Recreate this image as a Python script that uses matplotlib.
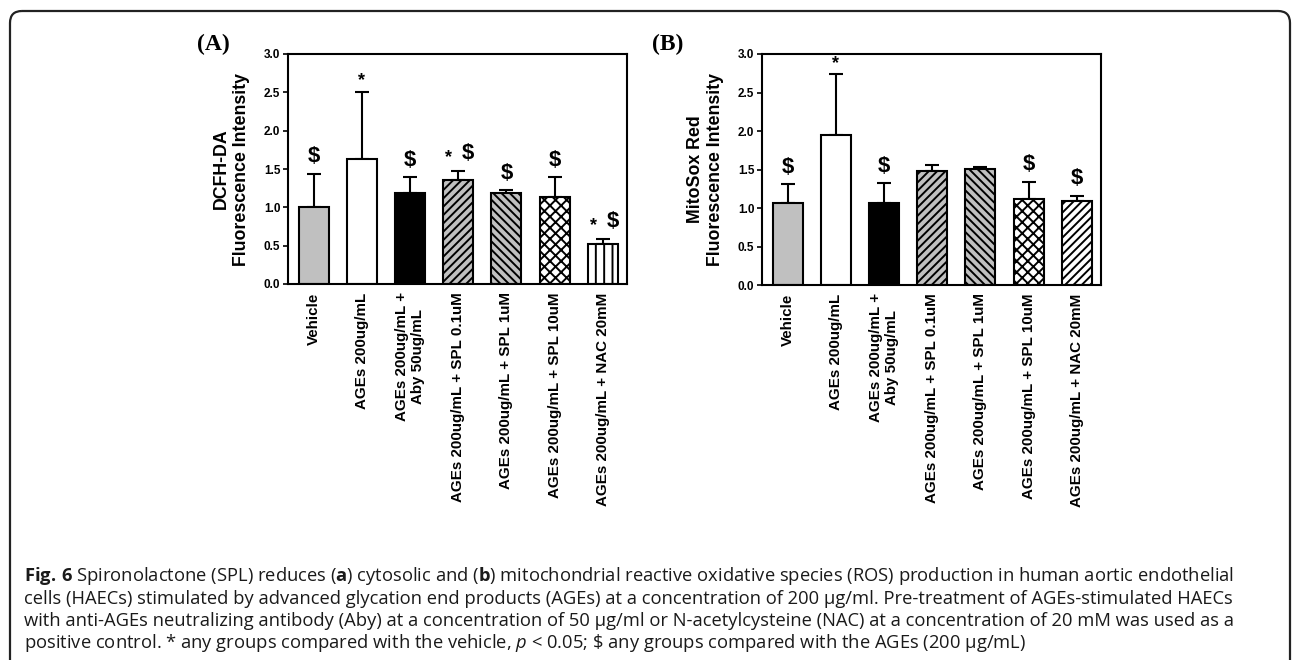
import numpy as np
import matplotlib
matplotlib.use('Agg')
import matplotlib.pyplot as plt
from matplotlib.patches import FancyBboxPatch

plt.rcParams['font.family'] = ['Liberation Sans', 'DejaVu Sans']
plt.rcParams['hatch.linewidth'] = 1.4
plt.rcParams['mathtext.fontset'] = 'custom'
plt.rcParams['mathtext.rm'] = 'Open Sans'
plt.rcParams['mathtext.bf'] = 'Open Sans:bold'
plt.rcParams['mathtext.it'] = 'Open Sans:italic'

groups = ['Vehicle', 'AGEs 200ug/mL', 'AGEs 200ug/mL +\nAby 50ug/mL',
          'AGEs 200ug/mL + SPL 0.1uM', 'AGEs 200ug/mL + SPL 1uM',
          'AGEs 200ug/mL + SPL 10uM', 'AGEs 200ug/mL + NAC 20mM']

# panel A: DCFH-DA
dcfh_mean = [1.01, 1.63, 1.19, 1.36, 1.19, 1.14, 0.52]
dcfh_err = [0.43, 0.88, 0.20, 0.12, 0.03, 0.25, 0.07]
dcfh_marks = ['$', '*', '$', '* $', '$', '$', '* $']

# panel B: MitoSox Red
mito_mean = [1.07, 1.95, 1.07, 1.48, 1.51, 1.12, 1.09]
mito_err = [0.24, 0.79, 0.25, 0.08, 0.02, 0.22, 0.07]
mito_marks = ['$', '*', '$', '', '', '$', '$']

fills = ['#c0c0c0', 'white', 'black', '#c0c0c0', '#c0c0c0', 'white', 'white']
hatch_a = [None, None, None, '////', '\\\\\\\\', 'xxx', '||']
hatch_b = [None, None, None, '////', '\\\\\\\\', 'xxx', '////']

W, H = 1295, 660
fig = plt.figure(figsize=(W / 100, H / 100), dpi=100)

# background layer in pixel coordinates: frame + caption
bg = fig.add_axes([0, 0, 1, 1], zorder=-1)
bg.set_xlim(0, W)
bg.set_ylim(H, 0)
bg.axis('off')
bg.add_patch(FancyBboxPatch((10, 11), 1280, 700,
                            boxstyle='round,pad=0,rounding_size=12',
                            fc='none', ec='#222222', lw=1.6))

cap = [r'$\mathbf{Fig.\,6}$ Spironolactone (SPL) reduces ($\mathbf{a}$) cytosolic and ($\mathbf{b}$) '
       'mitochondrial reactive oxidative species (ROS) production in human aortic endothelial',
       'cells (HAECs) stimulated by advanced glycation end products (AGEs) at a concentration '
       'of 200 μg/ml. Pre-treatment of AGEs-stimulated HAECs',
       'with anti-AGEs neutralizing antibody (Aby) at a concentration of 50 μg/ml or '
       'N-acetylcysteine (NAC) at a concentration of 20 mM was used as a',
       r'positive control. * any groups compared with the vehicle, $p$ < 0.05; \$ any groups '
       'compared with the AGEs (200 μg/mL)']
for k, line in enumerate(cap):
    bg.text(24, 576 + k * 22.5, line, fontsize=13.2, family='Open Sans',
            va='center', ha='left', color='#1a1a1a')


def panel(rect, means, errs, marks, hatches, ylabel, tag, tagx):
    ax = fig.add_axes(rect)
    x = np.arange(len(means))
    for i in x:
        ax.bar(i, means[i], width=0.62, color=fills[i], edgecolor='black',
               linewidth=1.5, hatch=hatches[i], zorder=2)
    ax.errorbar(x, means, yerr=[np.zeros(len(errs)), errs], fmt='none',
                ecolor='black', elinewidth=1.5, capsize=5, capthick=1.5, zorder=1)
    for i, m in enumerate(marks):
        top = means[i] + errs[i]
        if m == '$':
            ax.text(i, top + 0.22, '$', ha='center', va='center', fontsize=16,
                    fontweight='bold', parse_math=False)
        elif m == '*':
            ax.text(i, top + 0.14, '*', ha='center', va='center', fontsize=13,
                    fontweight='bold', parse_math=False)
        elif m == '* $':
            ax.text(i - 0.2, top + 0.17, '*', ha='center', va='center', fontsize=13,
                    fontweight='bold', parse_math=False)
            ax.text(i + 0.2, top + 0.22, '$', ha='center', va='center', fontsize=16,
                    fontweight='bold', parse_math=False)
    ax.set_xlim(-0.53, 6.5)
    ax.set_ylim(0, 3.0)
    ax.set_yticks(np.arange(0, 3.01, 0.5))
    ax.set_yticklabels([f'{v:.1f}' for v in np.arange(0, 3.01, 0.5)],
                       fontsize=8.5, fontweight='bold')
    ax.tick_params(axis='y', direction='out', length=3.5, width=1.2, pad=2)
    ax.set_xticks(x)
    ax.set_xticklabels(groups, rotation=90, fontsize=10.9, fontweight='bold',
                       va='top', ha='center', linespacing=1.1)
    ax.tick_params(axis='x', length=0, pad=6)
    for s in ax.spines.values():
        s.set_linewidth(1.5)
    ax.set_ylabel(ylabel, fontsize=12.8, fontweight='bold', linespacing=1.2, labelpad=10)
    fig.text(tagx, 1 - 44 / H, tag, family='Liberation Serif', fontweight='bold',
             fontsize=17, ha='left', va='center')
    return ax


panel([288 / W, 1 - 284 / H, 339 / W, 230 / H], dcfh_mean, dcfh_err, dcfh_marks,
      hatch_a, 'DCFH-DA\nFluorescence Intensity', '(A)', 197 / W)
panel([762 / W, 1 - 285 / H, 339 / W, 231 / H], mito_mean, mito_err, mito_marks,
      hatch_b, 'MitoSox Red\nFluorescence Intensity', '(B)', 652 / W)

fig.savefig('out.png', dpi=100)
